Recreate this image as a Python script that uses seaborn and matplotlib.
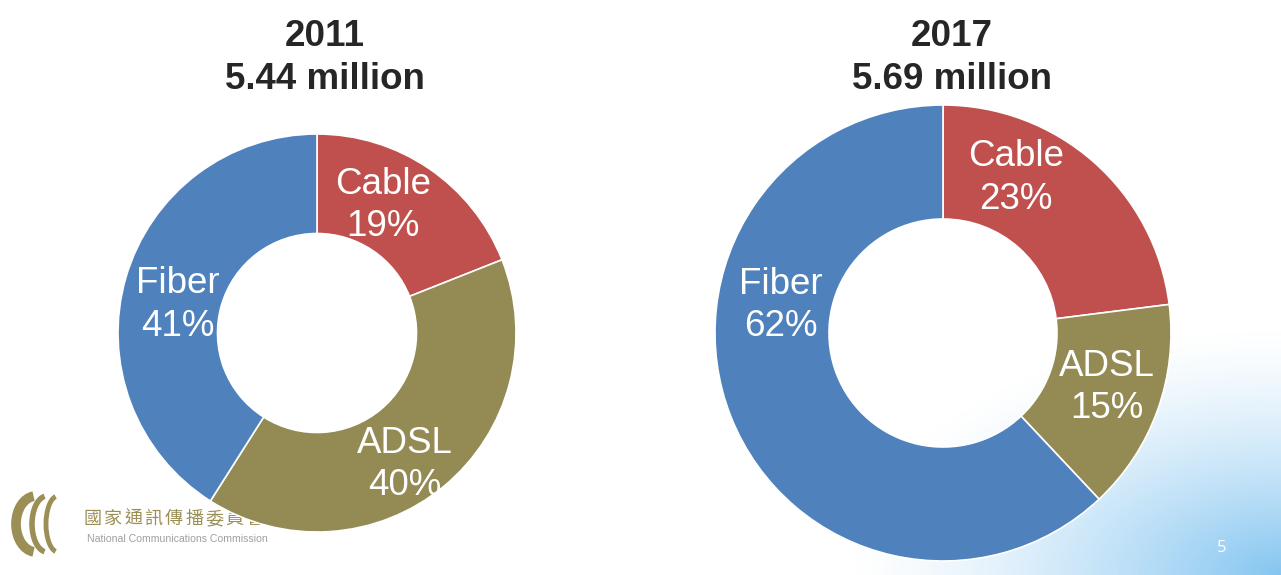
"""
Broadband subscribers by access type, 2011 vs 2017, drawn as two donut charts.
"""

import numpy as np
import seaborn as sns
import matplotlib.pyplot as plt
from matplotlib.patches import Arc

# chart data
access_types = ["Cable", "ADSL", "Fiber"]
share_2011 = [19, 40, 41]
share_2017 = [23, 15, 62]
years = ["2011", "2017"]
subscribers_millions = [5.44, 5.69]

sns.set_theme(style="white")
plt.rcParams["font.family"] = ["Liberation Sans", "DejaVu Sans"]

slice_colors = ["#C0504D", "#948A54", "#4F81BD"]

# layout in pixels (figure is 1281 x 575, origin bottom-left)
centers = [(317, 242), (943, 242)]
radii = [199, 228]
title_x = [325, 952]
# label anchor offsets, in units of the outer radius
label_offsets = [
    [(0.33, 0.64), (0.44, -0.66), (-0.70, 0.14)],
    [(0.32, 0.68), (0.72, -0.24), (-0.71, 0.12)],
]

fig = plt.figure(figsize=(12.81, 5.75), dpi=100)
ax = fig.add_axes([0, 0, 1, 1])

# soft blue wash in the bottom-right corner
gx, gy = np.meshgrid(np.linspace(0, 1, 400), np.linspace(0, 1, 300))
wash = np.clip(1.0 - np.hypot((1 - gx) * 1.1, gy * 1.2), 0, 1) ** 1.4
img = np.zeros((300, 400, 4))
img[..., 0] = 0.40
img[..., 1] = 0.72
img[..., 2] = 0.93
img[..., 3] = wash * 0.8
ax.imshow(img, extent=(800, 1281, 0, 300), origin="lower", zorder=0,
          interpolation="bilinear", aspect="auto")

# logo (sits behind the first donut)
logo_gold = "#9C8F55"
for k, ch in enumerate("國家通訊傳播委員會"):
    ax.text(84 + k * 20.2, 575 - 519, ch, color=logo_gold, fontsize=13,
            family=["Noto Sans CJK TC", "DejaVu Sans"], fontweight="medium",
            va="center", ha="left", zorder=1)
ax.text(87, 575 - 539, "National Communications Commission", color="#A0A0A0",
        fontsize=7.6, va="center", ha="left", zorder=1)
for k, (w, lw) in enumerate([(40, 7), (30, 4), (24, 3.5)]):
    ax.add_patch(Arc((36 + k * 11, 575 - 524), w, 56, theta1=95, theta2=265,
                     color=logo_gold, lw=lw, zorder=1))

ax.text(1222, 575 - 548, "5", color="white", fontsize=12, ha="center",
        va="center", family=["Open Sans", "DejaVu Sans"], zorder=3)

for i, shares in enumerate([share_2011, share_2017]):
    cx, cy = centers[i]
    r = radii[i]
    ax.pie(
        shares,
        colors=slice_colors,
        startangle=90,
        counterclock=False,
        radius=r,
        center=(cx, cy),
        frame=True,
        wedgeprops=dict(width=r * 0.5, edgecolor="white", linewidth=1.2),
    )
    for j, name in enumerate(access_types):
        dx, dy = label_offsets[i][j]
        ax.text(cx + dx * r, cy + dy * r, f"{name}\n{shares[j]}%",
                color="white", fontsize=26.5, ha="center", va="center",
                linespacing=1.28, zorder=4)
    ax.text(title_x[i], 575 - 58, f"{years[i]}\n{subscribers_millions[i]:.2f} million",
            color="#262626", fontsize=26.5, fontweight="bold", ha="center",
            va="center", linespacing=1.3, zorder=4)

ax.set_xlim(0, 1281)
ax.set_ylim(0, 575)
ax.set_aspect("auto")
ax.axis("off")

fig.savefig("out.png", dpi=100)
